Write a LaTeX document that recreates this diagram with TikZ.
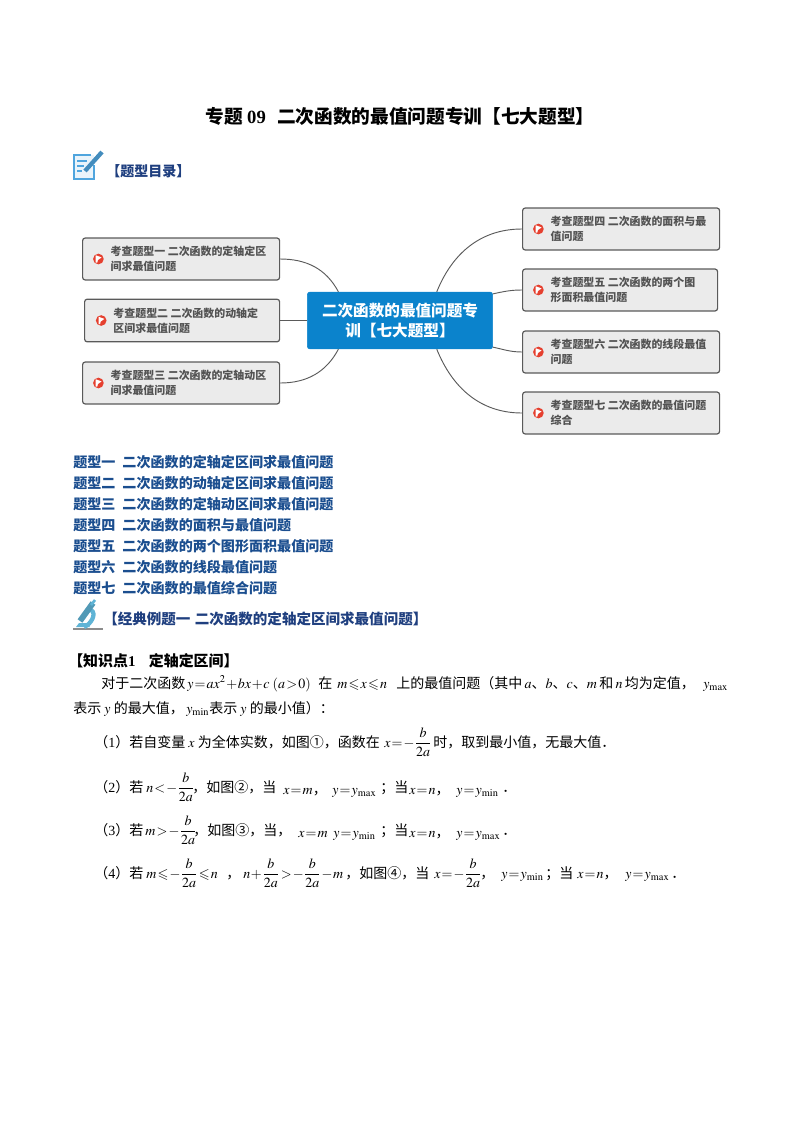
\documentclass[tikz,border=0pt]{standalone}
\usepackage{amsmath}
\usepackage{amssymb}
\usepackage{mathptmx}
\usepackage{fontspec}
\setmainfont{Noto Sans CJK SC}
\newfontfamily\latinfont{Liberation Serif}
\usetikzlibrary{positioning}
\definecolor{topicblue}{HTML}{0B83CC}
\definecolor{boxgray}{HTML}{EBEBEB}
\definecolor{boxline}{HTML}{5A5A5A}
\definecolor{flagred}{HTML}{E5402F}
\definecolor{headnavy}{HTML}{1F3F7F}
\definecolor{listblue}{HTML}{1B4E8F}
\definecolor{iconblue}{HTML}{4FA5DE}
\definecolor{scopeblue}{HTML}{5FB4D6}
\thickmuskip=1.5mu
\medmuskip=0.8mu
\tikzset{
  qbox/.style={draw=boxline, line width=0.9pt, fill=boxgray, rounded corners=2pt, minimum height=31.5pt, anchor=west},
  qflag/.style={circle, fill=flagred, minimum size=8pt, inner sep=0pt,
    path picture={\fill[white] ([shift={(-2pt,-2.8pt)}]path picture bounding box.center) -- ++(0pt,5.6pt) -- ++(4.4pt,-1.6pt) -- ++(-2.8pt,-2pt) -- ++(-0.4pt,-2pt) -- cycle;}},
  qtext/.style={inner sep=0pt, align=left, text=black!68, font=\fontsize{8.2}{11.2}\selectfont\bfseries},
  link/.style={draw=boxline, line width=0.7pt},
  bodytxt/.style={inner sep=0pt, anchor=base west, font=\fontsize{10.5}{14}\selectfont},
  listtxt/.style={inner sep=0pt, anchor=base west, text=listblue, font=\fontsize{10.55}{14}\selectfont\bfseries},
  headtxt/.style={inner sep=0pt, anchor=base west, text=headnavy, font=\fontsize{10.5}{14}\selectfont\bfseries}
}
\begin{document}
\begin{tikzpicture}[x=0.75pt, y=-0.75pt]
\useasboundingbox (0,0) rectangle (800,1132);

\node[inner sep=0pt, anchor=base, font=\fontsize{14}{16}\selectfont\bfseries] (title) at (400,123) {专题 {\latinfont 09}\hspace{0.6em}二次函数的最值问题专训【七大题型】};

% note icon
\fill[iconblue!12] (74,155) rectangle (94,179);
\draw[iconblue, line width=1.3pt] (91,155) -- (74,155) -- (74,179) -- (94,179) -- (94,165);
\draw[iconblue, line width=1.4pt] (77,161) -- (87,161) (77,166) -- (84,166) (77,171) -- (82,171);
\draw[iconblue!85!black, line width=3.2pt] (85,171) -- (102,152);
\node[headtxt] (toc) at (106,176) {【题型目录】};

% mind map
\node[draw=topicblue, fill=topicblue, rounded corners=2pt, minimum width=139pt, minimum height=42.7pt, inner sep=0pt, align=center, text=white, font=\fontsize{11.7}{15.4}\selectfont\bfseries] (topic) at (400,320.5) {二次函数的最值问题专\\训【七大题型】};

\node[qbox, minimum width=147.75pt] (q1) at (82,259) {};
\node[qflag, right=8.1pt of q1.west] (f1) {};
\node[qtext, right=4.8pt of f1] (t1) {考查题型一 二次函数的定轴定区\\间求最值问题};

\node[qbox, minimum width=146.25pt, minimum height=32pt] (q2) at (84,320.5) {};
\node[qflag, right=8.7pt of q2.west] (f2) {};
\node[qtext, right=4.8pt of f2] (t2) {考查题型二 二次函数的动轴定\\区间求最值问题};

\node[qbox, minimum width=147.75pt] (q3) at (82,383) {};
\node[qflag, right=8.1pt of q3.west] (f3) {};
\node[qtext, right=4.8pt of f3] (t3) {考查题型三 二次函数的定轴动区\\间求最值问题};

\node[qbox, minimum width=147.75pt] (q4) at (522,229) {};
\node[qflag, right=8.1pt of q4.west] (f4) {};
\node[qtext, right=4.8pt of f4] (t4) {考查题型四 二次函数的面积与最\\值问题};

\node[qbox, minimum width=146.25pt] (q5) at (522,290) {};
\node[qflag, right=8.1pt of q5.west] (f5) {};
\node[qtext, right=4.8pt of f5] (t5) {考查题型五 二次函数的两个图\\形面积最值问题};

\node[qbox, minimum width=147.75pt] (q6) at (522,352) {};
\node[qflag, right=8.1pt of q6.west] (f6) {};
\node[qtext, right=4.8pt of f6] (t6) {考查题型六 二次函数的线段最值\\问题};

\node[qbox, minimum width=147.75pt] (q7) at (522,413) {};
\node[qflag, right=8.1pt of q7.west] (f7) {};
\node[qtext, right=4.8pt of f7] (t7) {考查题型七 二次函数的最值问题\\综合};

\draw[link] (q1.east) to[out=0, in=118] (topic.155);
\draw[link] (q2.east) -- (topic.west |- q2.east);
\draw[link] (q3.east) to[out=0, in=-118] (topic.-155);
\draw[link] (topic.38) to[out=68, in=180] (q4.west);
\draw[link] (topic.16) to[out=12, in=180] (q5.west);
\draw[link] (topic.-16) to[out=-12, in=180] (q6.west);
\draw[link] (topic.-38) to[out=-68, in=180] (q7.west);

% list of types
\node[listtxt] (l1) at (73,467) {题型一\hspace{0.5em}二次函数的定轴定区间求最值问题};
\node[listtxt] (l2) at (73,488) {题型二\hspace{0.5em}二次函数的动轴定区间求最值问题};
\node[listtxt] (l3) at (73,509) {题型三\hspace{0.5em}二次函数的定轴动区间求最值问题};
\node[listtxt] (l4) at (73,530) {题型四\hspace{0.5em}二次函数的面积与最值问题};
\node[listtxt] (l5) at (73,551) {题型五\hspace{0.5em}二次函数的两个图形面积最值问题};
\node[listtxt] (l6) at (73,572) {题型六\hspace{0.5em}二次函数的线段最值问题};
\node[listtxt] (l7) at (73,593) {题型七\hspace{0.5em}二次函数的最值综合问题};

% microscope icon
\draw[black!45, line width=1.2pt] (73,629) -- (103,629);
\draw[scopeblue, line width=3.2pt] (91,610) to[out=-30, in=20] (84,627);
\draw[scopeblue!85!black, line width=4.4pt] (80,621) -- (93,603);
\draw[scopeblue, line width=2pt] (91,605) -- (95,600);
\fill[scopeblue] (76,627) -- (90,627) -- (87,623) -- (79,623) -- cycle;
\node[headtxt, font=\fontsize{10.9}{14}\selectfont\bfseries] (ex) at (103,624) {【经典例题一\hspace{0.3em}二次函数的定轴定区间求最值问题】};

% text
\node[bodytxt, font=\fontsize{11.2}{14}\selectfont\bfseries] (k) at (68,666) {【知识点{\latinfont 1}\hspace{0.9em}定轴定区间】};

\node[bodytxt] (a1) at (101,688) {对于二次函数};
\node[bodytxt] (a2) at (187,688) {$y=ax^2+bx+c\ (a>0)$};
\node[bodytxt] (a3) at (318,688) {在};
\node[bodytxt] (a4) at (337,688) {$m\leqslant x\leqslant n$};
\node[bodytxt] (a5) at (396,688) {上的最值问题（其中\,$a$、$b$、$c$、$m$\,和\,$n$\,均为定值，};
\node[bodytxt] (a6) at (703,688) {$y_{\max}$};
\node[bodytxt] (b1) at (73,713) {表示 $y$ 的最大值，};
\node[bodytxt] (b2) at (186,713) {$y_{\min}$};
\node[bodytxt] (b3) at (209,713) {表示 $y$ 的最小值）：};

\node[bodytxt] (c1) at (94,747) {（{\latinfont 1}）若自变量 $x$ 为全体实数，如图①，函数在};
\node[bodytxt] (c2) at (384,747) {$x=-\dfrac{b}{2a}$};
\node[bodytxt] (c3) at (433,747) {时，取到最小值，无最大值．};

\node[bodytxt] (d1) at (94,792) {（{\latinfont 2}）若};
\node[bodytxt] (d2) at (146,792) {$n<-\dfrac{b}{2a}$};
\node[bodytxt] (d3) at (192,792) {，如图②，当};
\node[bodytxt] (d4) at (283,794) {$x=m$，};
\node[bodytxt] (d5) at (332,794) {$y=y_{\max}$};
\node[bodytxt] (d6) at (380,792) {；当};
\node[bodytxt] (d7) at (409,794) {$x=n$，};
\node[bodytxt] (d8) at (456,794) {$y=y_{\min}$};
\node[bodytxt] (d9) at (502,792) {．};

\node[bodytxt] (e1) at (94,835) {（{\latinfont 3}）若};
\node[bodytxt] (e2) at (145,835) {$m>-\dfrac{b}{2a}$};
\node[bodytxt] (e3) at (193,835) {，如图③，当，};
\node[bodytxt] (e4) at (298,837) {$x=m$};
\node[bodytxt] (e5) at (333,837) {$y=y_{\min}$};
\node[bodytxt] (e6) at (380,835) {；当};
\node[bodytxt] (e7) at (409,837) {$x=n$，};
\node[bodytxt] (e8) at (456,837) {$y=y_{\max}$};
\node[bodytxt] (e9) at (502,835) {．};

\node[bodytxt] (g1) at (94,878) {（{\latinfont 4}）若};
\node[bodytxt] (g2) at (146,878) {$m\leqslant-\dfrac{b}{2a}\leqslant n$};
\node[bodytxt] (g3) at (226,878) {，};
\node[bodytxt] (g4) at (243,878) {$n+\dfrac{b}{2a}>-\dfrac{b}{2a}-m$};
\node[bodytxt] (g5) at (345,878) {，如图④，当};
\node[bodytxt] (g6) at (434,878) {$x=-\dfrac{b}{2a}$};
\node[bodytxt] (g7) at (480,878) {，};
\node[bodytxt] (g8) at (501,878) {$y=y_{\min}$};
\node[bodytxt] (g9) at (545,878) {；当};
\node[bodytxt] (g10) at (577,878) {$x=n$，};
\node[bodytxt] (g11) at (625,878) {$y=y_{\max}$};
\node[bodytxt] (g12) at (671,878) {．};
\end{tikzpicture}
\end{document}
